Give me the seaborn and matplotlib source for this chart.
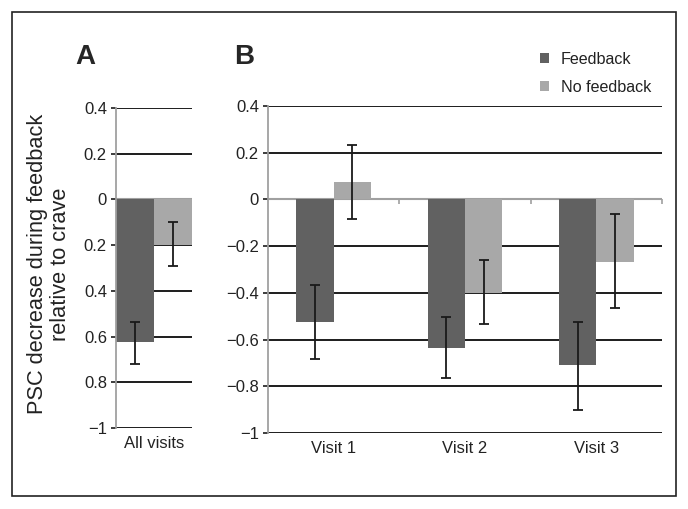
import numpy as np
import pandas as pd
import matplotlib
matplotlib.use("Agg")
import matplotlib.pyplot as plt
import seaborn as sns
from matplotlib.patches import Rectangle

# data
conditions = ["Feedback", "No feedback"]
all_label = ["All visits"]
all_means = [-0.625, -0.197]
all_err_lo = [-0.720, -0.293]
all_err_hi = [-0.534, -0.098]

visits = ["Visit 1", "Visit 2", "Visit 3"]
fb_means = [-0.524, -0.634, -0.709]
fb_err_lo = [-0.682, -0.764, -0.902]
fb_err_hi = [-0.367, -0.504, -0.524]
nf_means = [0.075, -0.402, -0.268]
nf_err_lo = [-0.083, -0.535, -0.465]
nf_err_hi = [0.235, -0.260, -0.064]

yticks = [0.4, 0.2, 0, -0.2, -0.4, -0.6, -0.8, -1]
yticklabels_a = ["0.4", "0.2", "0", "0.2", "0.4", "0.6", "0.8", "\u22121"]
yticklabels_b = ["0.4", "0.2", "0", "\u22120.2", "\u22120.4", "\u22120.6", "\u22120.8", "\u22121"]

df_a = pd.DataFrame({"visit": all_label * 2,
                     "cond": [conditions[0], conditions[1]],
                     "psc": all_means})
df_b = pd.DataFrame({"visit": visits * 2,
                     "cond": [conditions[0]] * 3 + [conditions[1]] * 3,
                     "psc": fb_means + nf_means})

sns.set_style("white")
plt.rcParams["font.family"] = ["Liberation Sans", "DejaVu Sans"]

palette = {"Feedback": "#616161", "No feedback": "#a8a8a8"}
grid_c = "#1c1c1c"
axis_c = "#a0a0a0"
text_c = "#222222"

fig = plt.figure(figsize=(6.88, 5.09), dpi=100)
axA = fig.add_axes([0.1686, 0.159, 0.1105, 0.6287])
axB = fig.add_axes([0.3895, 0.1493, 0.5727, 0.6424])


def style_axis(ax, labels, n):
    ax.set_ylim(-1, 0.4)
    ax.set_xlim(-0.5, n - 0.5)
    ax.set_yticks(yticks)
    ax.set_yticklabels(labels, fontsize=12, color=text_c)
    ax.yaxis.grid(True, color=grid_c, lw=1.4)
    ax.set_axisbelow(True)
    for s in ["top", "right", "bottom"]:
        ax.spines[s].set_visible(False)
    ax.spines["left"].set_color(axis_c)
    ax.spines["left"].set_linewidth(1.3)
    ax.tick_params(axis="y", left=True, length=3.5, width=1.2, color=grid_c, pad=3)
    ax.tick_params(axis="x", length=0, pad=6, labelsize=12, labelcolor=text_c)
    ax.axhline(0, color=axis_c, lw=1.5, zorder=0.9)
    ax.set_xlabel("")
    ax.set_ylabel("")


def add_errorbars(ax, los, his):
    for cont, lo, hi in zip(ax.containers, los, his):
        for bar, l, h in zip(cont.patches, lo, hi):
            x = bar.get_x() + bar.get_width() / 2
            ax.errorbar([x], [(l + h) / 2], yerr=[[(h - l) / 2], [(h - l) / 2]],
                        fmt="none", ecolor="#1a1a1a", elinewidth=1.3,
                        capsize=3.5, capthick=1.3, zorder=5)


# panel A
sns.barplot(data=df_a, x="visit", y="psc", hue="cond", palette=palette,
            width=1.0, gap=0, ax=axA, legend=False, saturation=1, linewidth=0)
style_axis(axA, yticklabels_a, 1)
add_errorbars(axA, [[all_err_lo[0]], [all_err_lo[1]]], [[all_err_hi[0]], [all_err_hi[1]]])
fig.text(0.0715, 0.481, "PSC decrease during feedback\nrelative to crave",
         rotation=90, ha="center", va="center", fontsize=15.7, color=text_c,
         linespacing=1.15)

# panel B
sns.barplot(data=df_b, x="visit", y="psc", hue="cond", palette=palette,
            width=0.57, gap=0, ax=axB, saturation=1, linewidth=0)
style_axis(axB, yticklabels_b, 3)
add_errorbars(axB, [fb_err_lo, nf_err_lo], [fb_err_hi, nf_err_hi])

# small ticks on the zero line between visit groups
sec = axB.secondary_xaxis(1.0 / 1.4)
sec.set_xticks([0.5, 1.5, 2.5])
sec.tick_params(axis="x", direction="out", length=3.5, width=1.2, color=axis_c,
                labelbottom=False, labeltop=False, top=False, bottom=True)
sec.spines["bottom"].set_visible(False)
sec.spines["top"].set_visible(False)

handles, labels = axB.get_legend_handles_labels()
axB.legend(handles, labels, loc="upper right", bbox_to_anchor=(0.967, 0.927),
           bbox_transform=fig.transFigure, frameon=False, fontsize=11.6,
           handlelength=0.55, handleheight=0.55, handletextpad=0.7,
           labelspacing=0.8, labelcolor=text_c)

fig.text(0.124, 0.888, "A", fontsize=20, weight="bold", ha="center", va="center")
fig.text(0.355, 0.888, "B", fontsize=20, weight="bold", ha="center", va="center")

fig.patches.append(Rectangle((12 / 688, 1 - 496 / 509), 664 / 688, 484 / 509,
                             transform=fig.transFigure, fill=False,
                             ec="#222222", lw=1.2))

fig.savefig("out.png", dpi=100)
